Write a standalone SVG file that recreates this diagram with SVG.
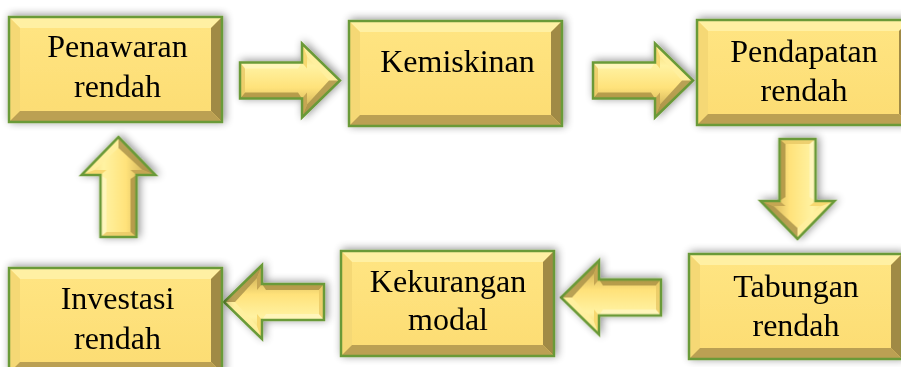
<svg xmlns="http://www.w3.org/2000/svg" xmlns:xlink="http://www.w3.org/1999/xlink" width="901" height="367" viewBox="0 0 901 367">
<style>
.lbl{font-family:"Liberation Serif","Times New Roman",serif;font-size:32px;fill:#000;text-anchor:middle}
.edge{stroke:#6b9a38;stroke-width:2.5;stroke-linejoin:miter}
</style>
<defs>
<filter id="sh" x="-20%" y="-30%" width="140%" height="160%">
<feGaussianBlur in="SourceAlpha" stdDeviation="4"/>
<feOffset dx="2" dy="-1" result="b"/>
<feComponentTransfer><feFuncA type="linear" slope="0.45"/></feComponentTransfer>
<feMerge><feMergeNode/><feMergeNode in="SourceGraphic"/></feMerge>
</filter>
<linearGradient id="faceG" x1="0" y1="0" x2="0" y2="1">
<stop offset="0" stop-color="#ffe583"/>
<stop offset="1" stop-color="#fcdc72"/>
</linearGradient>
<linearGradient id="arrG" x1="0" y1="0" x2="0" y2="1">
<stop offset="0" stop-color="#f3d56c"/>
<stop offset="0.3" stop-color="#fff2a2"/>
<stop offset="0.6" stop-color="#ffe27a"/>
<stop offset="1" stop-color="#b89a48"/>
</linearGradient>
<g id="box">
<rect x="0" y="0" width="213" height="105" fill="url(#faceG)"/>
<polygon points="0,0 213,0 202,11 11,11" fill="#fff0a3"/>
<polygon points="0,0 11,11 11,94 0,105" fill="#f5d874"/>
<polygon points="213,0 213,105 202,94 202,11" fill="#a08a45"/>
<polygon points="0,105 213,105 202,94 11,94" fill="#bba052"/>
<rect x="0" y="0" width="213" height="105" fill="none" class="edge"/>
</g>
<g id="arr">
<polygon points="0,-18 62,-18 62,-37 100,0 62,37 62,18 0,18" fill="url(#arrG)"/>
<polygon points="0,-18 62,-18 58,-12 5,-12" fill="#fff6c2" opacity="0.8"/>
<polygon points="0,18 62,18 58,12 5,12" fill="#a88e42" opacity="0.8"/>
<polygon points="0,-18 5,-12 5,12 0,18" fill="#e8c865" opacity="0.8"/>
<polygon points="62,-37 100,0 89,0 67,-24" fill="#fff0a0" opacity="0.85"/>
<polygon points="100,0 62,37 67,24 89,0" fill="#a89048" opacity="0.8"/>
<polygon points="62,-37 67,-24 67,-12 62,-18" fill="#f7d870"/>
<polygon points="62,37 67,24 67,12 62,18" fill="#c5a652"/>
<polygon points="0,-18 62,-18 62,-37 100,0 62,37 62,18 0,18" fill="none" class="edge"/>
</g>
</defs>
<rect width="901" height="367" fill="#ffffff"/>
<g id="connectors" filter="url(#sh)">
<use xlink:href="#arr" href="#arr" transform="translate(240,80.5)"/>
<use xlink:href="#arr" href="#arr" transform="translate(593,80.5)"/>
<use xlink:href="#arr" href="#arr" transform="translate(797.5,139) rotate(90)"/>
<use xlink:href="#arr" href="#arr" transform="translate(661,297.5) rotate(180)"/>
<use xlink:href="#arr" href="#arr" transform="translate(324,302) rotate(180)"/>
<use xlink:href="#arr" href="#arr" transform="translate(118.5,237) rotate(-90)"/>
</g>
<g id="n-penawaran" filter="url(#sh)">
<use xlink:href="#box" href="#box" x="9" y="17"/>
<text class="lbl" x="117.5" y="57">Penawaran</text>
<text class="lbl" x="117.5" y="97">rendah</text>
</g>
<g id="n-kemiskinan" filter="url(#sh)">
<use xlink:href="#box" href="#box" x="349" y="21"/>
<text class="lbl" x="457.5" y="72">Kemiskinan</text>
</g>
<g id="n-pendapatan" filter="url(#sh)">
<use xlink:href="#box" href="#box" x="697" y="20"/>
<text class="lbl" x="804" y="62">Pendapatan</text>
<text class="lbl" x="804" y="101">rendah</text>
</g>
<g id="n-tabungan" filter="url(#sh)">
<use xlink:href="#box" href="#box" x="689" y="254"/>
<text class="lbl" x="796" y="297">Tabungan</text>
<text class="lbl" x="796" y="336">rendah</text>
</g>
<g id="n-kekurangan" filter="url(#sh)">
<use xlink:href="#box" href="#box" x="341" y="251"/>
<text class="lbl" x="448" y="292">Kekurangan</text>
<text class="lbl" x="448" y="330">modal</text>
</g>
<g id="n-investasi" filter="url(#sh)">
<use xlink:href="#box" href="#box" x="9" y="268"/>
<text class="lbl" x="117.5" y="309">Investasi</text>
<text class="lbl" x="117.5" y="349">rendah</text>
</g>
</svg>
